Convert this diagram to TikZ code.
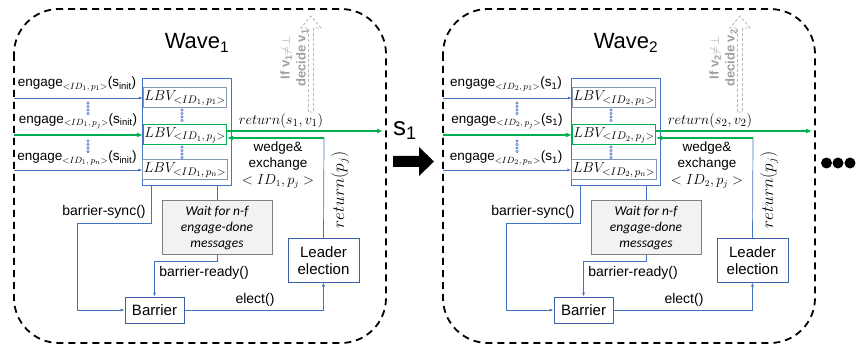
\documentclass[tikz,border=0pt]{standalone}
\usepackage{fontspec}
\setmainfont{Liberation Sans}
\newfontfamily\calibfont{Carlito}
\usepackage{tikz}
\usetikzlibrary{arrows.meta,positioning,calc}
\definecolor{wvblue}{RGB}{68,114,196}
\definecolor{wvbox}{RGB}{60,96,168}
\definecolor{wvgrey}{RGB}{132,151,176}
\definecolor{wvgreen}{RGB}{0,176,80}
\definecolor{wvlight}{RGB}{242,242,242}
\newcommand{\idsub}[2]{\mbox{\fontsize{#1}{#1}\selectfont${<}#2{>}$}}

\begin{document}
\begin{tikzpicture}[x=1pt, y=-1pt, every node/.style={font=\fontsize{14}{16}\selectfont},
  bx/.style={draw=wvbox, line width=1pt, align=center, inner sep=2pt, font=\fontsize{15}{17}\selectfont},
  lbv/.style={draw=wvgrey, line width=1pt, minimum width=78pt, minimum height=20pt, inner sep=1pt, font=\fontsize{14}{14}\selectfont},
  bl/.style={draw=wvblue, line width=0.7pt},
  bla/.style={bl, -{Latex[length=4pt,width=3pt]}},
  gr/.style={draw=wvgreen, line width=2.2pt, -{Latex[length=6pt,width=5pt]}},
  eng/.style={font=\fontsize{13.5}{15}\selectfont}]
\useasboundingbox (0,0) rectangle (856,347);
\foreach \w/\sin in {1/init,2/1}{
\begin{scope}[xshift={(\w-1)*429}]
% Frame
\draw[line width=1.8pt, dash pattern=on 7pt off 5pt, rounded corners=45pt] (14,9) rectangle (386,343);
\node[font=\fontsize{22}{24}\selectfont] (title\w) at (197,43) {Wave\textsubscript{\w}};
% LBV instances
\node[draw=wvblue, line width=1pt, minimum width=89pt, minimum height=107pt] (lbv\w) at (186.5,132.5) {};
\node[lbv] (p1\w) at (185,98) {$LBV_{\idsub{11}{ID_\w,p_1}}$};
\node[lbv, draw=wvgreen] (pj\w) at (185,135) {$LBV_{\idsub{11}{ID_\w,p_j}}$};
\node[lbv] (pn\w) at (185,170) {$LBV_{\idsub{11}{ID_\w,p_n}}$};
\foreach \yy in {110,113.5,117,120.5,147,150.5,154,157.5}
  \draw[wvblue, line width=0.5pt] (182,\yy) circle (1.3);
\foreach \yy in {103,106.5,110,113.5,141,144.5,148,151.5}
  \draw[wvblue, line width=0.5pt] (88,\yy) circle (1.3);
% Engage calls
\coordinate (ea\w) at (14,98);
\coordinate (ej\w) at (14,135);
\coordinate (en\w) at (14,170);
\draw[bla] (ea\w) -- (p1\w.west);
\draw[gr] (ej\w) -- (pj\w.west);
\draw[bla] (en\w) -- (pn\w.west);
\node[eng] (la\w) at (77,84) {engage$_{\idsub{9.5}{ID_\w,p_1}}$(s\textsubscript{\sin})};
\node[eng] (lj\w) at (78,121) {engage$_{\idsub{9.5}{ID_\w,p_j}}$(s\textsubscript{\sin})};
\node[eng] (ln\w) at (77,158) {engage$_{\idsub{9.5}{ID_\w,p_n}}$(s\textsubscript{\sin})};
% Return and decide
\coordinate (ret\w) at (383,131);
\draw[gr] (pj\w.east |- ret\w) -- (ret\w);
\node[font=\fontsize{15.5}{17}\selectfont] (rl\w) at (281,121) {$return(s_\w,v_\w)$};
\draw[gray!55, line width=0.9pt, dash pattern=on 3pt off 2pt] (308.5,112) -- (308.5,28) -- (301,28) -- (311,16) -- (321,28) -- (313.5,28) -- (313.5,112) -- cycle;
\node[rotate=90, align=center, text=gray!75, font=\bfseries\fontsize{13}{16}\selectfont] (dec\w) at (294,58) {If v\textsubscript{\w}$\neq\perp$\\decide v\textsubscript{\w}};
% Leader election
\node[bx, minimum width=71pt, minimum height=43pt] (le\w) at (323.5,260.5) {Leader\\election};
\coordinate (bk\w) at (324,138);
\draw[bl] (le\w.north) -- (bk\w);
\draw[gr] (bk\w) -- (pj\w.east |- bk\w);
\node[rotate=90, font=\fontsize{18.5}{20}\selectfont] (rp\w) at (340,190) {$return(p_j)$};
\node[align=center, font=\fontsize{13.5}{16.5}\selectfont] (wx\w) at (278,165) {wedge\&\\exchange\\{\fontsize{13.5}{14}\selectfont$<ID_\w,p_j>$}};
% Barrier
\node[bx, fill=wvlight, draw=gray, minimum width=110pt, minimum height=54pt, font=\calibfont\itshape\fontsize{13.5}{16}\selectfont] (wait\w) at (217,228) {Wait for n-f\\engage-done\\messages};
\node[bx, minimum width=59pt, minimum height=26pt] (bar\w) at (154.5,310) {Barrier};
\draw[bla] ($(lbv\w.south west)+(10,0)$) |- (77,223) |- (bar\w.west);
\node (bs\w) at (104,212) {barrier-sync()};
\draw[bl] (wait\w.north |- lbv\w.south) -- (wait\w.north);
\draw[bla] (wait\w.south) -- ++(0,6) -| (bar\w.north);
\node (br\w) at (204,273) {barrier-ready()};
\draw[bla] (bar\w.east) -| (le\w.south);
\node (el\w) at (255,300) {elect()};
\end{scope}
}
% Between waves
\node[font=\fontsize{26}{28}\selectfont] (s1) at (405,131) {s\textsubscript{1}};
\fill (393,156) -- (419,156) -- (419,147) -- (434,161.5) -- (419,176) -- (419,167) -- (393,167) -- cycle;
\foreach \x in {826.5,838,850}
  \fill (\x,163) circle (5.5);
\end{tikzpicture}
\end{document}
